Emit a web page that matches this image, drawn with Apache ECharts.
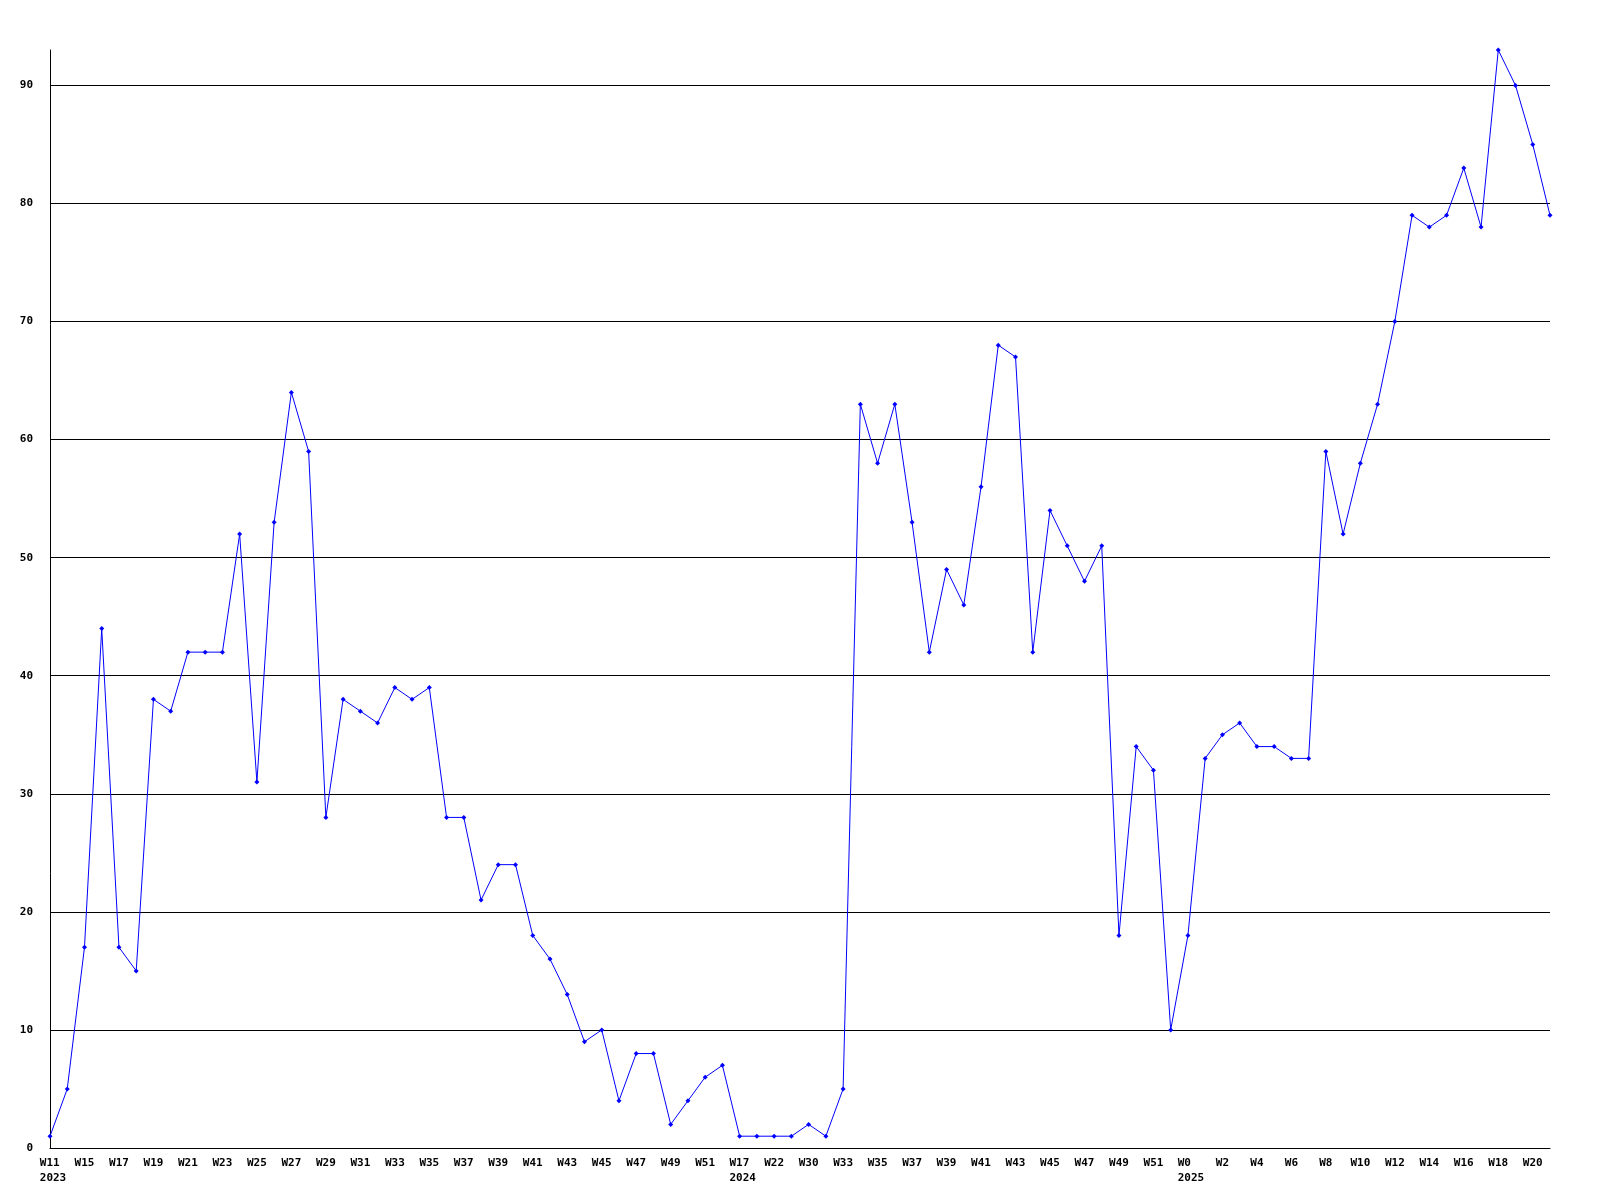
<!DOCTYPE html>
<html>
<head>
<meta charset="utf-8">
<script src="https://cdn.jsdelivr.net/npm/echarts@6/dist/echarts.min.js"></script>
<style>html,body{margin:0;padding:0;background:#fff}#c{width:1600px;height:1200px}</style>
</head>
<body>
<div id="c"></div>
<script>
var weeks = ["W11","W13","W15","W16","W17","W18","W19","W20","W21","W22","W23","W24","W25","W26","W27","W28","W29","W30","W31","W32","W33","W34","W35","W36","W37","W38","W39","W40","W41","W42","W43","W44","W45","W46","W47","W48","W49","W50","W51","W52",
"W17","W20","W22","W26","W30","W31","W33","W34","W35","W36","W37","W38","W39","W40","W41","W42","W43","W44","W45","W46","W47","W48","W49","W50","W51","W52",
"W0","W1","W2","W3","W4","W5","W6","W7","W8","W9","W10","W11","W12","W13","W14","W15","W16","W17","W18","W19","W20","W21"];
var yearLabels = {0: "2023", 40: "2024", 66: "2025"};
var values = [1,5,17,44,17,15,38,37,42,42,42,52,31,53,64,59,28,38,37,36,39,38,39,28,28,21,24,24,18,16,13,9,10,4,8,8,2,4,6,7,
1,1,1,1,2,1,5,63,58,63,53,42,49,46,56,68,67,42,54,51,48,51,18,34,32,10,
18,33,35,36,34,34,33,33,59,52,58,63,70,79,78,79,83,78,93,90,85,79];
var yTicks = {min: 0, max: 93, interval: 10};

var font = '"DejaVu Sans Mono", "Liberation Mono", monospace';
var chart = echarts.init(document.getElementById('c'), null, {renderer: 'canvas'});
chart.setOption({
  backgroundColor: '#ffffff',
  animation: false,
  grid: {left: 50, right: 50, top: 50, bottom: 52, containLabel: false},
  xAxis: {
    type: 'category',
    data: weeks,
    boundaryGap: false,
    axisLine: {lineStyle: {color: '#000', width: 1}},
    axisTick: {show: false},
    splitLine: {show: false},
    axisLabel: {
      interval: 1,
      margin: 8,
      color: '#000',
      fontFamily: font,
      fontWeight: 'bold',
      fontSize: 11,
      lineHeight: 15,
      formatter: function (v, i) {
        if (yearLabels[i]) return '{a|' + v + '}\n{a|' + yearLabels[i] + '}';
        return v;
      },
      rich: {a: {align: 'left', padding: [0, 0, 0, 6], fontFamily: font, fontWeight: 'bold', fontSize: 11, color: '#000', lineHeight: 15}}
    }
  },
  yAxis: {
    type: 'value',
    min: yTicks.min,
    max: yTicks.max,
    interval: yTicks.interval,
    axisLine: {show: true, lineStyle: {color: '#000', width: 1}},
    axisTick: {show: false},
    splitLine: {show: true, showMaxLine: false, lineStyle: {color: '#000', width: 1}},
    axisLabel: {
      color: '#000', fontFamily: font, fontWeight: 'bold', fontSize: 11, margin: 17,
      showMaxLabel: false
    }
  },
  series: [{
    type: 'line',
    data: values,
    symbol: 'diamond',
    symbolSize: 5,
    showAllSymbol: true,
    lineStyle: {color: '#0000ff', width: 1},
    itemStyle: {color: '#0000ff'},
    clip: true
  }]
});
</script>
</body>
</html>
